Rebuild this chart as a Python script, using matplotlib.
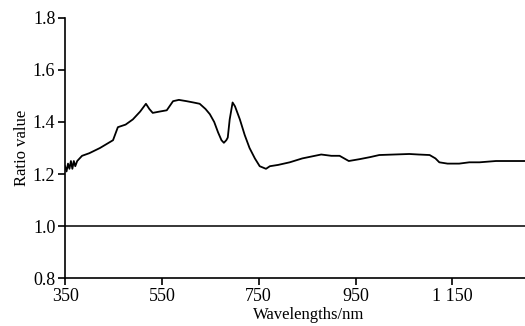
import matplotlib.pyplot as plt

# spectrum
wavelength = [350, 353, 356, 359, 362, 365, 368, 371, 375, 385, 400, 422, 440, 449, 459, 475,
              490, 505, 517, 524, 531, 545, 560, 573, 585, 601, 615, 628, 640, 649, 658,
              666, 673, 678, 683, 686, 690, 696, 701, 711, 721, 731, 742, 752, 765,
              773, 790, 814, 840, 879, 900, 917, 936, 958, 980, 999, 1030, 1061, 1080,
              1103, 1115, 1123, 1140, 1164, 1185, 1206, 1240, 1268, 1300]
ratio = [1.23, 1.21, 1.24, 1.22, 1.25, 1.22, 1.25, 1.23, 1.25, 1.27, 1.28, 1.30, 1.32, 1.33,
         1.38, 1.39, 1.41, 1.44, 1.47, 1.45, 1.435, 1.44, 1.445, 1.48, 1.485, 1.48, 1.475,
         1.47, 1.45, 1.43, 1.40, 1.36, 1.33, 1.32, 1.33, 1.34, 1.41, 1.475, 1.46, 1.41,
         1.35, 1.30, 1.26, 1.23, 1.22, 1.23, 1.235, 1.245, 1.26, 1.275, 1.27, 1.27, 1.25,
         1.257, 1.265, 1.273, 1.275, 1.277, 1.275, 1.273, 1.26, 1.245, 1.24, 1.24, 1.245,
         1.245, 1.25, 1.25, 1.25]

xticks = [350, 550, 750, 950, 1150]
xtick_labels = ['350', '550', '750', '950', '1 150']
yticks = [0.8, 1.0, 1.2, 1.4, 1.6, 1.8]

plt.rcParams['font.family'] = 'Liberation Serif'

fig = plt.figure(figsize=(5.25, 3.26), dpi=100)
ax = fig.add_axes([0.124, 0.147, 0.876, 0.798])

ax.plot(wavelength, ratio, color='black', linewidth=1.3)
ax.axhline(1.0, color='black', linewidth=1.1)

ax.set_xlim(350, 1300)
ax.set_ylim(0.8, 1.8)
ax.set_xticks(xticks)
ax.set_xticklabels(xtick_labels)
ax.set_yticks(yticks)
ax.set_yticklabels([f'{v:.1f}' for v in yticks])
ax.tick_params(direction='out', length=5, width=1.2, labelsize=13, pad=2)

ax.spines['top'].set_visible(False)
ax.spines['right'].set_visible(False)
ax.spines['left'].set_linewidth(1.2)
ax.spines['bottom'].set_linewidth(1.2)

ax.set_xlabel('Wavelengths/nm', fontsize=12, labelpad=0)
ax.xaxis.set_label_coords(0.53, -0.11)
ax.set_ylabel('Ratio value', fontsize=12, labelpad=2)

fig.savefig('out.png', dpi=100)
